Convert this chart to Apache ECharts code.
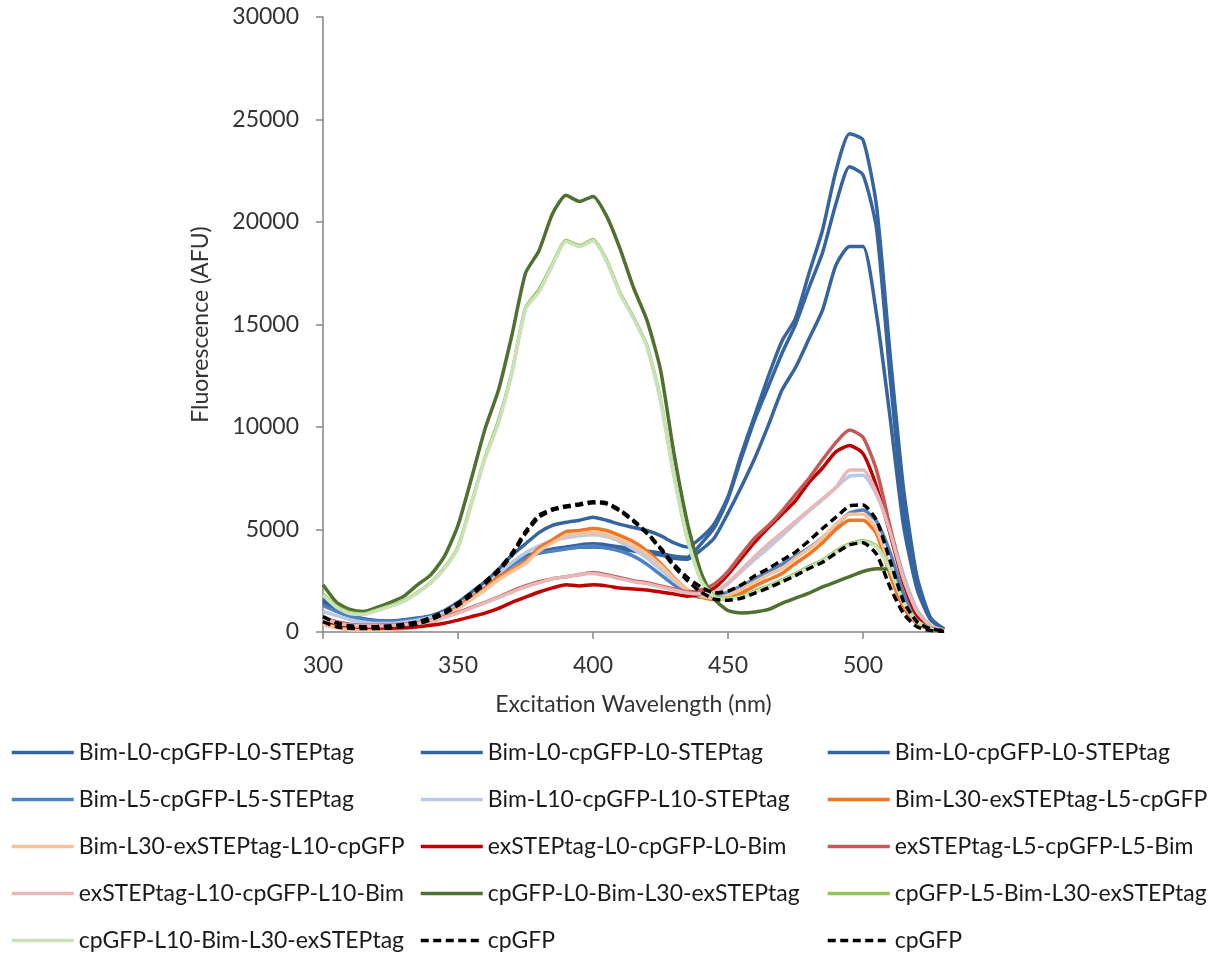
<!DOCTYPE html>
<html>
<head>
<meta charset="utf-8">
<script src="https://cdn.jsdelivr.net/npm/echarts@6/dist/echarts.min.js"></script>
<style>
  html, body { margin: 0; padding: 0; background: #fff; }
  #chart { width: 1223px; height: 958px; }
</style>
</head>
<body>
<div id="chart"></div>
<script>
// wavelength grid (nm)
const wavelengths = [300,305,310,315,320,325,330,335,340,345,350,355,360,365,370,375,380,385,390,395,
  400,405,410,415,420,425,430,435,440,445,450,455,460,465,470,475,480,485,490,495,500,505,510,515,520,525,530];

// fluorescence (AFU)
const bimL0a = [1600,1200,850,650,560,540,600,680,800,1050,1450,1950,2450,3050,3750,4300,4850,5200,5350,5450,
  5600,5450,5250,5100,4950,4700,4350,4150,4600,5300,6600,8700,10600,12500,14200,15300,17500,19600,22500,24300,24000,20800,13600,7000,2700,700,100];
const bimL0b = [1500,1100,800,620,540,520,580,650,760,1000,1350,1800,2250,2800,3350,3700,3900,4050,4150,4250,
  4300,4250,4150,4050,3950,3850,3700,3650,4300,5100,6500,8500,10400,12000,13600,15000,16800,18500,20900,22700,22300,19700,12500,6000,2300,650,150];
const bimL0c = [1400,1050,780,600,520,500,560,630,740,960,1300,1750,2200,2750,3300,3650,3850,3980,4080,4130,
  4150,4120,4050,3950,3850,3750,3600,3550,4000,4600,5800,7100,8500,10100,11800,12900,14300,15700,17900,18800,18800,15500,10500,5200,2100,600,150];
const bimL5 = [1300,1000,750,600,520,500,560,640,750,980,1300,1750,2200,2750,3250,3600,3850,3950,4050,4150,
  4200,4100,3950,3700,3300,2800,2300,1900,1700,1750,1950,2250,2600,2950,3300,3700,4100,4600,5200,5800,5950,5400,3900,1900,700,200,80];
const bimL10 = [1000,800,600,480,420,420,480,580,720,950,1300,1750,2250,2850,3400,3850,4200,4450,4600,4700,
  4750,4650,4400,4050,3600,3050,2500,2050,1800,1850,2350,2950,3550,4100,4700,5300,5900,6450,7050,7600,7650,6700,5000,2800,1100,300,100];
const exL5 = [450,250,120,100,100,120,180,270,450,800,1250,1700,2150,2700,3050,3450,4100,4500,4900,4950,
  5050,4950,4700,4400,3950,3350,2650,2050,1700,1580,1650,1900,2250,2550,2850,3350,3800,4350,5000,5450,5450,4800,2800,1200,400,120,50];
const exL10 = [350,200,100,80,80,100,170,260,430,750,1150,1600,2050,2550,2950,3350,3950,4350,4700,4800,
  4850,4750,4500,4200,3800,3250,2600,2050,1750,1650,1800,2100,2450,2800,3100,3600,4050,4600,5250,5750,5750,5000,3200,1400,450,130,50];
const stepL0 = [600,400,280,230,200,190,210,260,330,430,580,750,920,1150,1450,1700,1950,2150,2300,2250,
  2300,2250,2150,2100,2050,1950,1850,1750,1850,2150,2800,3600,4400,5100,5750,6400,7300,8000,8800,9100,8700,7100,4800,2400,800,200,80];
const stepL5 = [700,500,380,330,330,350,390,450,570,740,950,1200,1450,1700,2000,2250,2450,2600,2700,2800,
  2900,2800,2650,2500,2400,2250,2100,1950,2050,2350,2950,3800,4600,5200,5900,6700,7500,8400,9250,9850,9500,7900,5150,2600,1000,300,100];
const stepL10 = [650,450,330,290,290,320,360,420,540,710,920,1170,1420,1680,1950,2200,2400,2600,2700,2800,
  2850,2750,2600,2450,2350,2200,2050,1900,1850,1950,2400,3050,3700,4300,4850,5400,5950,6500,7050,7900,7900,6800,4900,2600,1000,300,100];
const gfpL0 = [2300,1450,1100,1000,1200,1450,1750,2300,2800,3700,5200,7500,9900,11800,14500,17500,18600,20400,21300,21000,
  21250,20300,18700,16800,15200,12800,8700,5300,2900,1600,1050,930,980,1100,1400,1650,1900,2200,2450,2700,2950,3080,3050,1500,500,180,80];
const gfpL5 = [1850,1250,950,880,1080,1280,1530,1930,2430,3130,4150,6300,8500,10300,12700,15800,16700,17950,19100,18850,
  19150,18150,16550,15350,13950,11350,7650,4550,2550,1750,1650,1750,2000,2250,2550,2850,3200,3500,3950,4300,4450,4200,3100,1500,550,150,60];
const gfpL10 = [1800,1200,900,850,1050,1250,1500,1900,2400,3100,4100,6250,8450,10200,12650,15750,16600,17900,19050,18800,
  19100,18100,16500,15300,13900,11300,7600,4500,2500,1700,1600,1700,1950,2200,2500,2800,3150,3450,3900,4250,4400,4150,3050,1450,520,150,60];
const cpGFPa = [750,450,300,260,260,300,380,500,700,1000,1400,1900,2450,3050,3850,4900,5700,6000,6150,6250,
  6350,6300,5950,5450,4850,4100,3300,2650,2200,1900,2000,2300,2750,3100,3500,3900,4450,5050,5600,6150,6200,5450,3500,1500,500,150,60];
const cpGFPb = [500,250,180,170,170,200,270,400,600,900,1300,1800,2350,2950,3750,4800,5600,5950,6100,6200,
  6300,6250,5900,5400,4800,4050,3200,2500,1950,1600,1550,1650,1900,2150,2450,2750,3100,3400,3850,4250,4350,3800,2200,900,250,80,40];

const xTicks = [300, 530, 50];     // min, max, step
const yTicks = [0, 30000, 5000];

const seriesList = [
  ['Bim-L0-cpGFP-L0-STEPtag', bimL0a, '#3564a0', 'solid'],
  ['Bim-L0-cpGFP-L0-STEPtag', bimL0b, '#3564a0', 'solid'],
  ['Bim-L0-cpGFP-L0-STEPtag', bimL0c, '#3564a0', 'solid'],
  ['Bim-L5-cpGFP-L5-STEPtag', bimL5, '#4f82c2', 'solid'],
  ['Bim-L10-cpGFP-L10-STEPtag', bimL10, '#b7cbe8', 'solid'],
  ['Bim-L30-exSTEPtag-L5-cpGFP', exL5, '#ee7627', 'solid'],
  ['Bim-L30-exSTEPtag-L10-cpGFP', exL10, '#f9c197', 'solid'],
  ['exSTEPtag-L0-cpGFP-L0-Bim', stepL0, '#c00000', 'solid'],
  ['exSTEPtag-L5-cpGFP-L5-Bim', stepL5, '#c65858', 'solid'],
  ['exSTEPtag-L10-cpGFP-L10-Bim', stepL10, '#e8b7b7', 'solid'],
  ['cpGFP-L0-Bim-L30-exSTEPtag', gfpL0, '#507030', 'solid'],
  ['cpGFP-L5-Bim-L30-exSTEPtag', gfpL5, '#95c257', 'solid'],
  ['cpGFP-L10-Bim-L30-exSTEPtag', gfpL10, '#c9e2b8', 'solid'],
  ['cpGFP', cpGFPa, '#000000', 'dashed'],
  ['cpGFP', cpGFPb, '#000000', 'dashed']
];

const font = 'Lato, "Open Sans", sans-serif';
const textColor = '#333333';
const axisColor = '#868686';
const fontSize = 23;

const chart = echarts.init(document.getElementById('chart'));

// legend split in three columns (same names may repeat across columns)
const legendCols = [[0, 3, 6, 9, 12], [1, 4, 7, 10, 13], [2, 5, 8, 11, 14]];
const legendLeft = [10, 419, 826];

chart.setOption({
  animation: false,
  grid: { left: 323, right: 279, top: 17, bottom: 326, containLabel: false },
  xAxis: {
    type: 'value',
    min: xTicks[0], max: xTicks[1], interval: xTicks[2],
    name: 'Excitation Wavelength (nm)',
    nameLocation: 'middle',
    nameGap: 61,
    nameTextStyle: { fontFamily: font, fontSize: fontSize, color: textColor },
    axisLine: { show: true, lineStyle: { color: axisColor, width: 1.5 } },
    axisTick: { show: true, length: 7, lineStyle: { color: axisColor, width: 1.5 } },
    axisLabel: { fontFamily: font, fontSize: fontSize, color: textColor, margin: 22, showMaxLabel: false },
    splitLine: { show: false }
  },
  yAxis: {
    type: 'value',
    min: yTicks[0], max: yTicks[1], interval: yTicks[2],
    name: 'Fluorescence (AFU)',
    nameLocation: 'middle',
    nameGap: 111,
    nameTextStyle: { fontFamily: font, fontSize: fontSize, color: textColor },
    axisLine: { show: true, lineStyle: { color: axisColor, width: 1.5 } },
    axisTick: { show: true, length: 7, lineStyle: { color: axisColor, width: 1.5 } },
    axisLabel: { fontFamily: font, fontSize: fontSize, color: textColor, margin: 24, formatter: v => String(v) },
    splitLine: { show: false }
  },
  legend: legendCols.map((col, i) => ({
    orient: 'vertical',
    left: legendLeft[i],
    top: 741,
    padding: 0,
    itemWidth: 62,
    itemHeight: 14,
    itemGap: 24,
    selectedMode: false,
    itemStyle: { color: 'rgba(0,0,0,0)', borderWidth: 0 },
    lineStyle: { width: 3.5 },
    textStyle: { fontFamily: font, fontSize: fontSize, color: '#1a1a1a' },
    data: col.map(k => seriesList[k][0])
  })),
  series: seriesList.map(([name, vals, color, dash]) => ({
    name: name,
    type: 'line',
    data: wavelengths.map((w, i) => [w, vals[i]]),
    showSymbol: false,
    symbol: 'none',
    smooth: 0.2,
    lineStyle: { color: color, width: 3.5, type: dash === 'dashed' ? [8, 4.5] : 'solid' },
    itemStyle: { color: color },
    emphasis: { disabled: true }
  }))
});

window.addEventListener('resize', () => {
  chart.resize();
});
</script>
</body>
</html>
